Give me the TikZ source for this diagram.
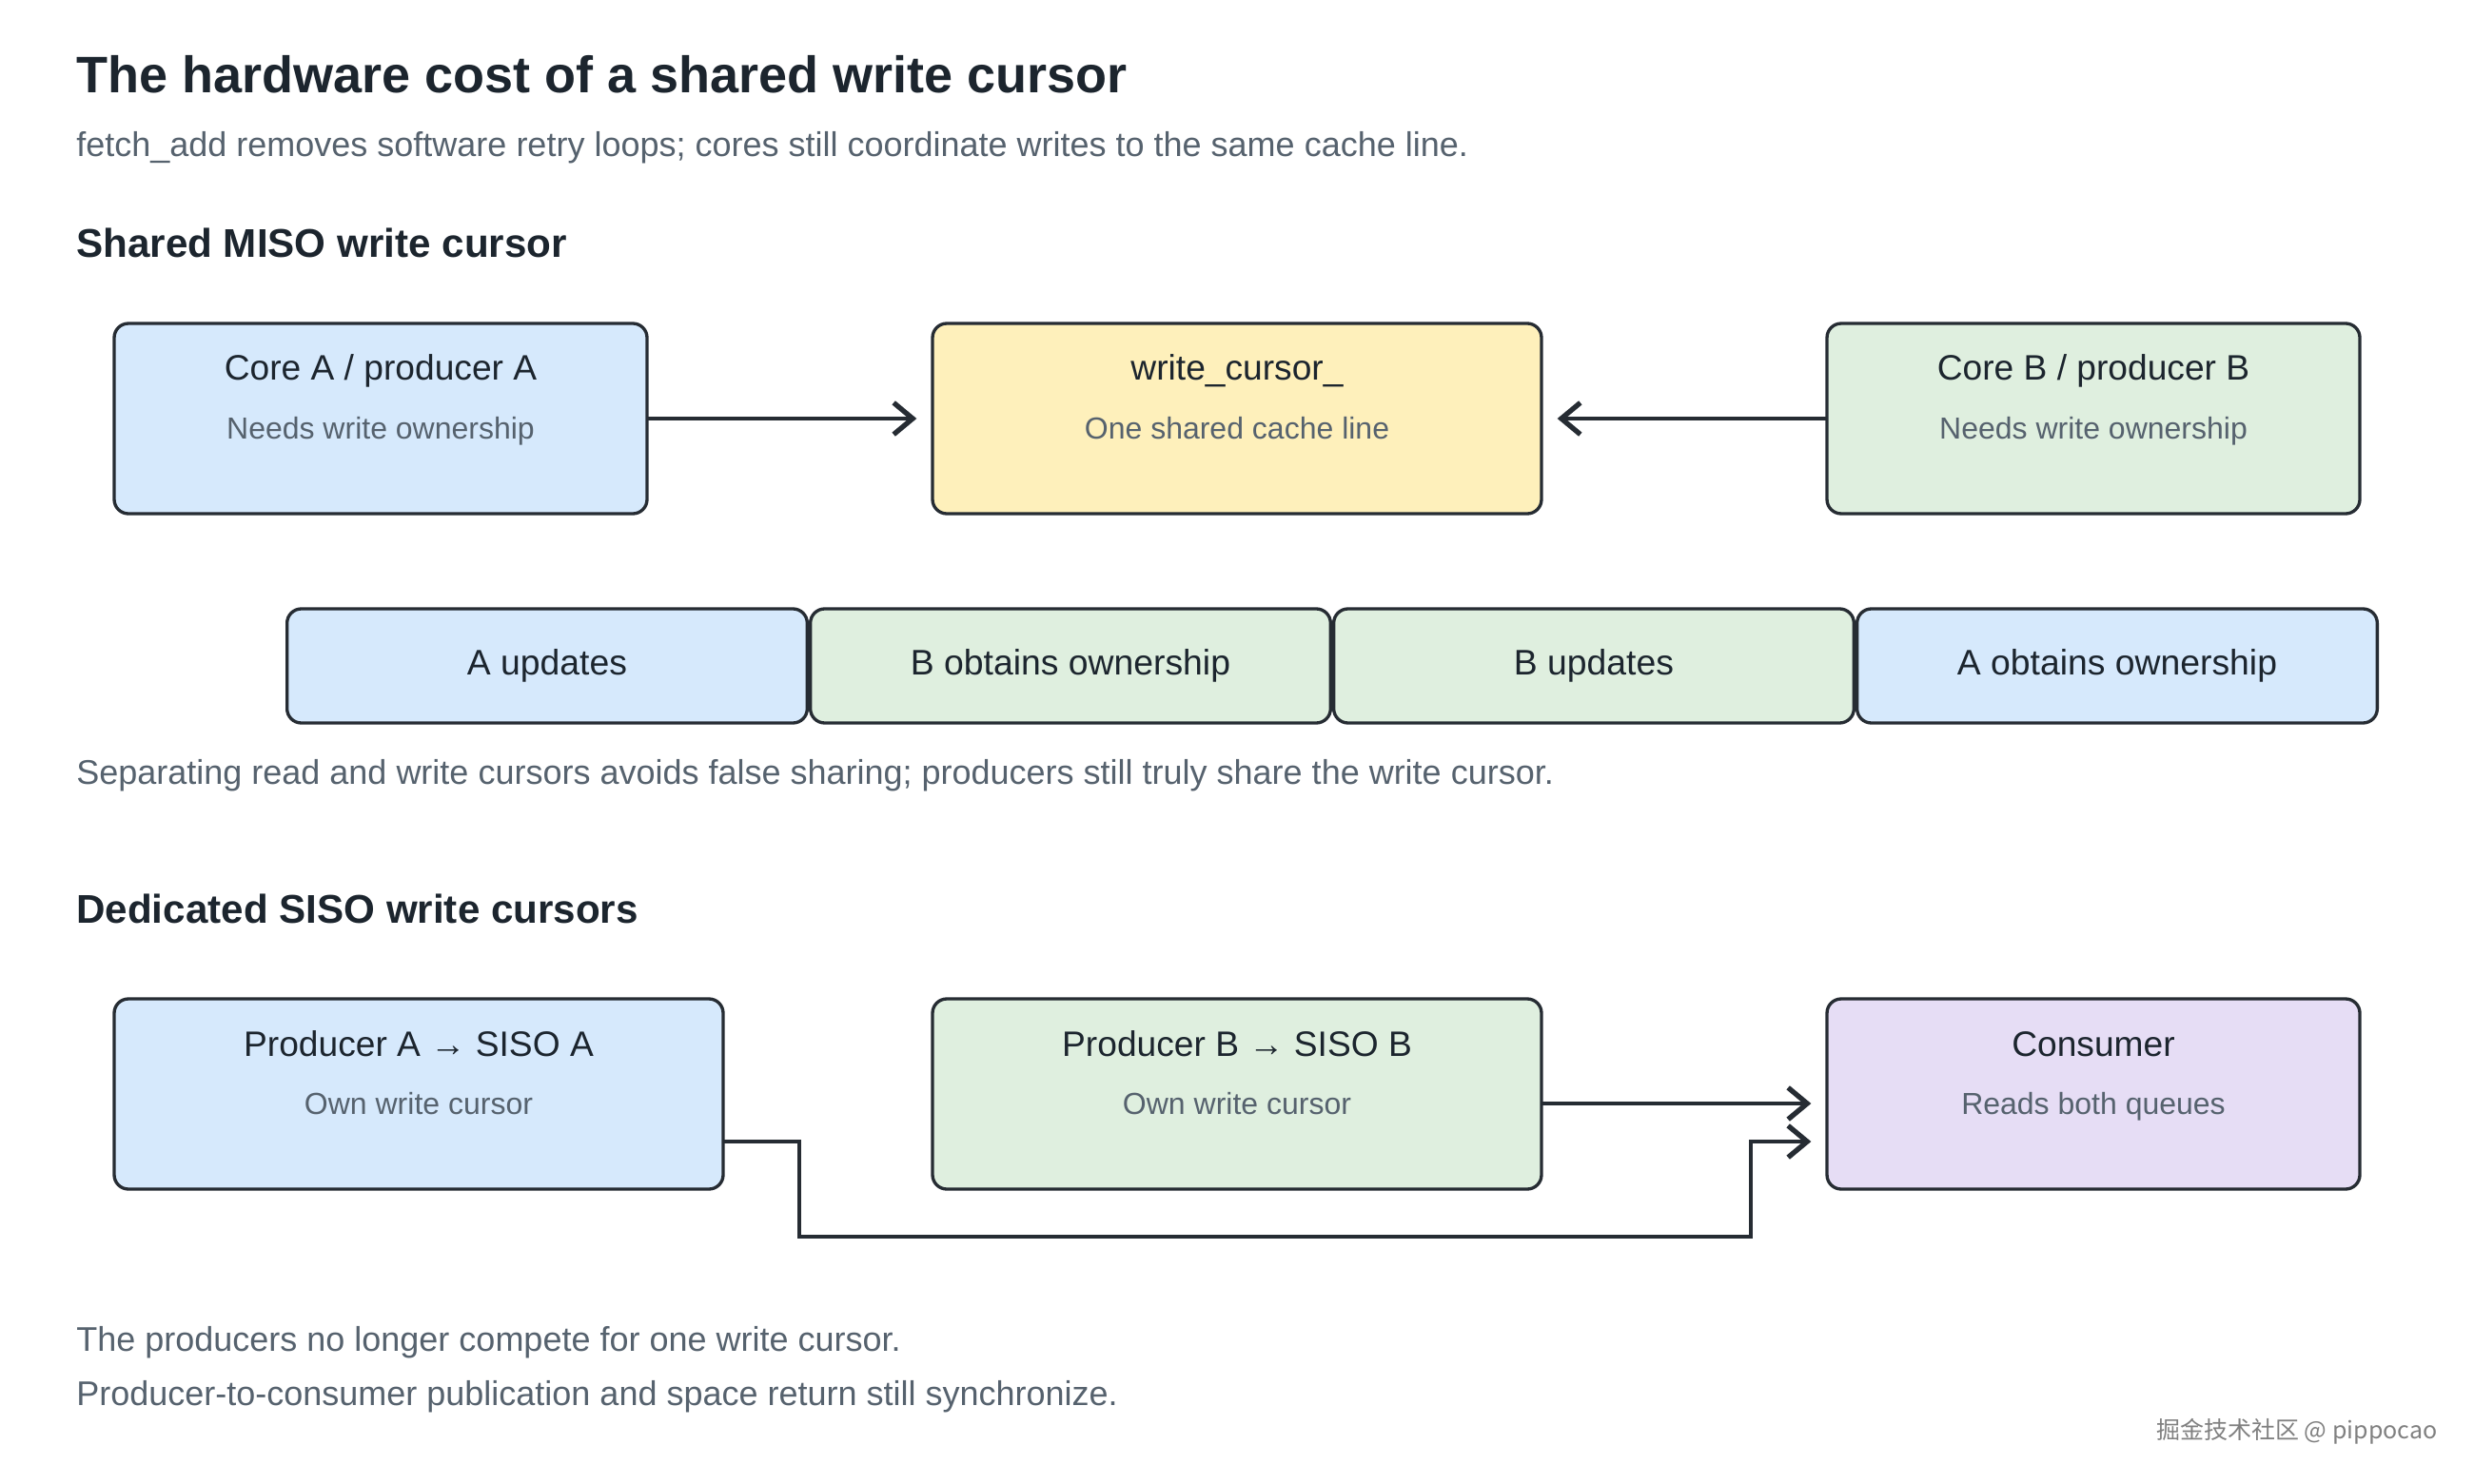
\documentclass[tikz,border=0pt]{standalone}
\usepackage{fontspec}
\setmainfont{Liberation Sans}
\newfontfamily\cjkfont{Noto Sans CJK SC}
\usetikzlibrary{positioning,matrix,arrows.meta}

\definecolor{inkdark}{HTML}{1C252E}
\definecolor{inkgray}{HTML}{56626E}
\definecolor{edge}{HTML}{262C33}
\definecolor{fillblue}{HTML}{D6E9FC}
\definecolor{fillyellow}{HTML}{FEF0BB}
\definecolor{fillgreen}{HTML}{DFEFDF}
\definecolor{fillpurple}{HTML}{E6DDF5}

\tikzset{
  box/.style={draw=edge, line width=2pt, rounded corners=9pt, minimum height=120pt, inner sep=0pt, outer sep=0pt},
  boxtitle/.style={anchor=base, inner sep=0pt, font=\fontsize{22.3}{26}\selectfont, text=inkdark},
  boxnote/.style={anchor=base, inner sep=0pt, font=\fontsize{19.2}{23}\selectfont, text=inkgray},
  heading/.style={anchor=west, inner sep=0pt, font=\bfseries\fontsize{25.3}{30}\selectfont, text=inkdark},
  plain/.style={anchor=west, inner sep=0pt, font=\fontsize{21.6}{26}\selectfont, text=inkgray},
  flow/.style={draw=edge, line width=2pt, -{Straight Barb[length=12pt,width=20pt,line width=3.2pt]}}
}

\begin{document}
\begin{tikzpicture}[x=1pt,y=-1pt,ampersand replacement=\&]
\fill[white] (0,0) rectangle (1560,936);
\useasboundingbox (0,0) rectangle (1560,936);

\node[anchor=west, inner sep=0pt, font=\bfseries\fontsize{32.4}{38}\selectfont, text=inkdark] (title) at (48,47) {The hardware cost of a shared write cursor};
\node[plain] (lead) at (48,93) {fetch\_add removes software retry loops; cores still coordinate writes to the same cache line.};
\node[heading] (miso) at (48,153) {Shared MISO write cursor};

\node[box, fill=fillblue, minimum width=336pt] (coreA) at (240,264) {};
\node[box, fill=fillyellow, minimum width=384pt, right=180pt of coreA] (cursor) {};
\node[box, fill=fillgreen, minimum width=336pt, right=180pt of cursor] (coreB) {};

\node[boxtitle] (coreAt) at ([yshift=-36pt]coreA.north) {Core A / producer A};
\node[boxnote] (coreAn) at ([yshift=-73pt]coreA.north) {Needs write ownership};
\node[boxtitle] (cursort) at ([yshift=-36pt]cursor.north) {write\_cursor\_};
\node[boxnote] (cursorn) at ([yshift=-73pt]cursor.north) {One shared cache line};
\node[boxtitle] (coreBt) at ([yshift=-36pt]coreB.north) {Core B / producer B};
\node[boxnote] (coreBn) at ([yshift=-73pt]coreB.north) {Needs write ownership};

\draw[flow] (coreA.east) -- ([xshift=-10pt]cursor.west);
\draw[flow] (coreB.west) -- ([xshift=10pt]cursor.east);

\matrix (steps) at (840,420) [matrix of nodes, inner sep=0pt, column sep=0pt,
nodes={draw=edge, line width=2pt, rounded corners=9pt, minimum width=328pt, minimum height=72pt, inner sep=0pt, outer sep=0pt, text height=16pt, text depth=5pt, font=\fontsize{22.4}{26}\selectfont, text=inkdark}
]{
	|[fill=fillblue]| A updates \& |[fill=fillgreen]| B obtains ownership \& |[fill=fillgreen]| B updates \& |[fill=fillblue]| A obtains ownership\\
};

\node[plain] (sep) at (48,489) {Separating read and write cursors avoids false sharing; producers still truly share the write cursor.};
\node[heading] (siso) at (48,573) {Dedicated SISO write cursors};

\node[box, fill=fillblue, minimum width=384pt] (prodA) at (264,690) {};
\node[box, fill=fillgreen, minimum width=384pt, right=132pt of prodA] (prodB) {};
\node[box, fill=fillpurple, minimum width=336pt, right=180pt of prodB] (consumer) {};

\node[boxtitle] (prodAt) at ([yshift=-36pt]prodA.north) {Producer A → SISO A};
\node[boxnote] (prodAn) at ([yshift=-73pt]prodA.north) {Own write cursor};
\node[boxtitle] (prodBt) at ([yshift=-36pt]prodB.north) {Producer B → SISO B};
\node[boxnote] (prodBn) at ([yshift=-73pt]prodB.north) {Own write cursor};
\node[boxtitle] (consumert) at ([yshift=-36pt]consumer.north) {Consumer};
\node[boxnote] (consumern) at ([yshift=-73pt]consumer.north) {Reads both queues};

\draw[flow] ([yshift=-6pt]prodB.east) -- ([xshift=-10pt,yshift=-6pt]consumer.west);
\draw[flow] ([yshift=-30pt]prodA.east) -- ++(48,0) -- ++(0,60) -| ([xshift=-48pt,yshift=-30pt]consumer.west) -- ([xshift=-10pt,yshift=-30pt]consumer.west);

\node[plain] (note1) at (48,847) {The producers no longer compete for one write cursor.};
\node[plain] (note2) at (48,881) {Producer-to-consumer publication and space return still synchronize.};
\node[anchor=east, inner sep=0pt, font=\cjkfont\fontsize{15}{18}\selectfont, text=black!50] (mark) at (1537,903) {掘金技术社区 @ pippocao};
\end{tikzpicture}
\end{document}
